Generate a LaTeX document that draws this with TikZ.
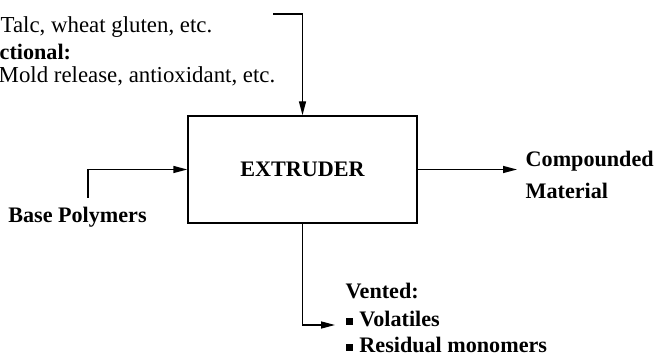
\documentclass[tikz,border=0pt]{standalone}
\usepackage{fontspec}
\setmainfont{Liberation Serif}
\usetikzlibrary{arrows.meta,positioning}

% small square bullet for the vented list
\newcommand{\sqbullet}{\rule[0.1em]{0.32em}{0.32em}\hspace{0.3em}}

\begin{document}
\begin{tikzpicture}[
  x=0.2mm, y=-0.2mm,
  font=\fontsize{13}{18}\selectfont,
  line width=0.8pt,
  flow/.style={-{Triangle[length=2.8mm,width=1.4mm]}},
  unit/.style={draw, minimum width=45.8mm, minimum height=21.4mm,
    font=\fontsize{12.6}{18}\selectfont\bfseries},
  tag/.style={anchor=base west, inner sep=0pt},
  bold tag/.style={tag, font=\fontsize{12.6}{18}\selectfont\bfseries},
  ]
  \useasboundingbox (0,0) rectangle (655,356);
  \clip (0,0) rectangle (655,356);

  \node[unit] (extruder) at (302.5,169.5) {EXTRUDER};

  % additives coming in from the top
  \node[tag] (fillers) at (0,33) {Talc, wheat gluten, etc.};
  \node[bold tag] (functional) at (-1,60) {ctional:};
  \node[tag] (release) at (-2,83) {Mold release, antioxidant, etc.};
  \coordinate (addfeed) at (273,14);
  \draw[flow] (addfeed) -| (extruder.north);

  % polymer feed
  \node[bold tag, anchor=base] (base) at (77.5,223) {Base Polymers};
  \coordinate (bpfeed) at (88,198);
  \draw[flow] (bpfeed) |- (extruder.west);

  % product
  \node[bold tag, anchor=west, align=left] (product) at (525,175)
    {Compounded\\Material};
  \draw[flow, shorten >=1.6mm] (extruder.east) -- (extruder.east -| product.west);

  % vent
  \node[bold tag] (vented) at (345,299) {Vented:};
  \node[bold tag] (volatiles) at (345,327) {\sqbullet Volatiles};
  \node[bold tag] (residual) at (345,353) {\sqbullet Residual monomers};
  \draw[flow] (extruder.south) |- ([xshift=-2mm,yshift=0.4mm]volatiles.base west);
\end{tikzpicture}
\end{document}
